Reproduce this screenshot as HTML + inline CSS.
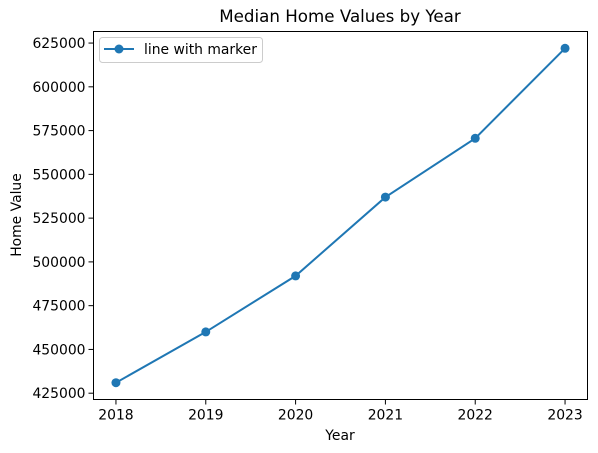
<!DOCTYPE html>
<html><head><meta charset="utf-8"><style>
body{margin:0;background:#fff;}
svg{display:block;font-family:"DejaVu Sans","Liberation Sans",sans-serif;}
</style></head><body>
<svg id="chart" width="598" height="453" xmlns="http://www.w3.org/2000/svg">
<rect width="598" height="453" fill="#fff"/>
<text x="340" y="22" font-size="16.7" text-anchor="middle" fill="#000">Median Home Values by Year</text>
<g id="yticks"></g>
<g id="xticks"></g>
<text x="340" y="440" font-size="13.9" text-anchor="middle">Year</text>
<text transform="translate(21,215) rotate(-90)" font-size="13.9" text-anchor="middle">Home Value</text>
<g id="series"></g>
<rect x="93.5" y="31.5" width="494" height="368" fill="none" stroke="#000" stroke-width="1"/>
<g>
<rect x="99.5" y="37.5" width="163" height="25" rx="3" fill="#fff" stroke="#ccc"/>
<line x1="104" y1="49" x2="134" y2="49" stroke="#1f77b4" stroke-width="2"/>
<circle cx="119" cy="49" r="4.5" fill="#1f77b4"/>
<text x="144" y="54" font-size="13.9">line with marker</text>
</g>
</svg>
<script>
const years=[2018,2019,2020,2021,2022,2023];
const values=[431000,460000,492000,537000,570600,622000];
const yTicks=[425000,450000,475000,500000,525000,550000,575000,600000,625000];
const NS="http://www.w3.org/2000/svg";
const L=93.5,R=587.5,T=31.5,B=399.5;
const xMin=2017.75,xMax=2023.25,yMin=421400,yMax=631600;
function xs(v){return L+(v-xMin)/(xMax-xMin)*(R-L);}
function ys(v){return B-(v-yMin)/(yMax-yMin)*(B-T);}
function mk(tag,attrs,parent){const e=document.createElementNS(NS,tag);for(const k in attrs)e.setAttribute(k,attrs[k]);parent.appendChild(e);return e;}
const yg=document.getElementById('yticks');
yTicks.forEach(t=>{const y=ys(t);
const l=mk('line',{x1:L-5,x2:L,y1:y,y2:y,stroke:'#000'},yg);


const tx=mk('text',{x:L-8,y:y+5,'font-size':13.9,'text-anchor':'end'},yg);tx.textContent=t;

});
const xg=document.getElementById('xticks');
years.forEach(t=>{const x=xs(t);
const l=mk('line',{x1:x,x2:x,y1:B,y2:B+5,stroke:'#000'},xg);


const tx=mk('text',{x:x,y:B+20,'font-size':13.9,'text-anchor':'middle'},xg);tx.textContent=t;

});
const sg=document.getElementById('series');
const pl=mk('polyline',{points:years.map((y,i)=>xs(y)+','+ys(values[i])).join(' '),fill:'none',stroke:'#1f77b4','stroke-width':2},sg);


years.forEach((y,i)=>{const c=mk('circle',{cx:xs(y),cy:ys(values[i]),r:4.5,fill:'#1f77b4'},sg);

});
</script>
</body></html>
